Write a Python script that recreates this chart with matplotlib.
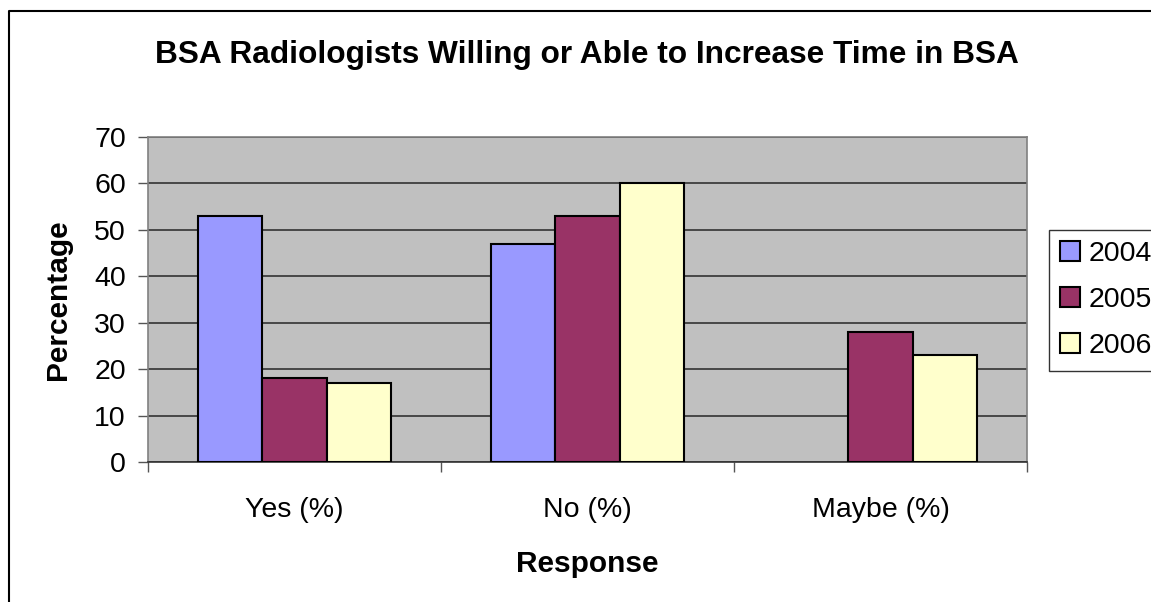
import numpy as np
import matplotlib.pyplot as plt
from matplotlib.lines import Line2D

plt.rcParams['font.family'] = ['Liberation Sans', 'DejaVu Sans']

responses = ['Yes (%)', 'No (%)', 'Maybe (%)']
years = ['2004', '2005', '2006']
pct_2004 = [53, 47, 0]
pct_2005 = [18, 53, 28]
pct_2006 = [17, 60, 23]
colors = ['#9999FF', '#993366', '#FFFFCC']

fig = plt.figure(figsize=(11.51, 6.02), dpi=100)
ax = fig.add_axes([148/1151, 1-462/602, 879/1151, 325/602])
ax.set_facecolor('#C0C0C0')

x = np.arange(len(responses))
w = 0.22
for i, (vals, c, lab) in enumerate(zip([pct_2004, pct_2005, pct_2006], colors, years)):
    edges = ['black' if v > 0 else 'none' for v in vals]
    ax.bar(x + (i - 1) * w, vals, width=w, color=c, edgecolor=edges, linewidth=1.5,
           label=lab, zorder=3)

ax.set_xlim(-0.5, 2.5)
ax.set_ylim(0, 70)
ax.set_yticks(range(0, 71, 10))
ax.yaxis.grid(True, color='#333333', linewidth=1.2, zorder=1)
ax.set_xticks(x)
ax.set_xticklabels(responses)
ax.set_xticks(np.arange(-0.5, 3, 1), minor=True)
ax.tick_params(axis='x', which='major', length=0, pad=25, labelsize=20.5)
ax.tick_params(axis='x', which='minor', length=7, width=1, color='#555555', direction='out')
ax.tick_params(axis='y', length=7, width=1, color='#555555', pad=9, labelsize=20.5)
for s in ax.spines.values():
    s.set_color('#808080')
    s.set_linewidth(1.2)
ax.spines['bottom'].set_color('#333333')

ax.set_ylabel('Percentage', fontsize=21.5, fontweight='bold', labelpad=16)
ax.set_xlabel('Response', fontsize=21.5, fontweight='bold', labelpad=20)
fig.text(587/1151, 1-55/602, 'BSA Radiologists Willing or Able to Increase Time in BSA',
         ha='center', va='center', fontsize=22.8, fontweight='bold')

leg = fig.legend(loc='upper left', bbox_to_anchor=(1049/1151, 1-230/602), fontsize=20.5,
                 frameon=True, fancybox=False, edgecolor='black', borderaxespad=0,
                 handlelength=0.7, handleheight=0.7, handletextpad=0.3, labelspacing=0.7,
                 borderpad=0.4)
leg.get_frame().set_linewidth(1)

# outer chart border (cut off at right and bottom)
fig.add_artist(Line2D([8.5/1151, 8.5/1151, 1.01], [-0.01, 1-10.5/602, 1-10.5/602],
                      transform=fig.transFigure, color='black', linewidth=1.5))

fig.savefig('out.png', dpi=100)
